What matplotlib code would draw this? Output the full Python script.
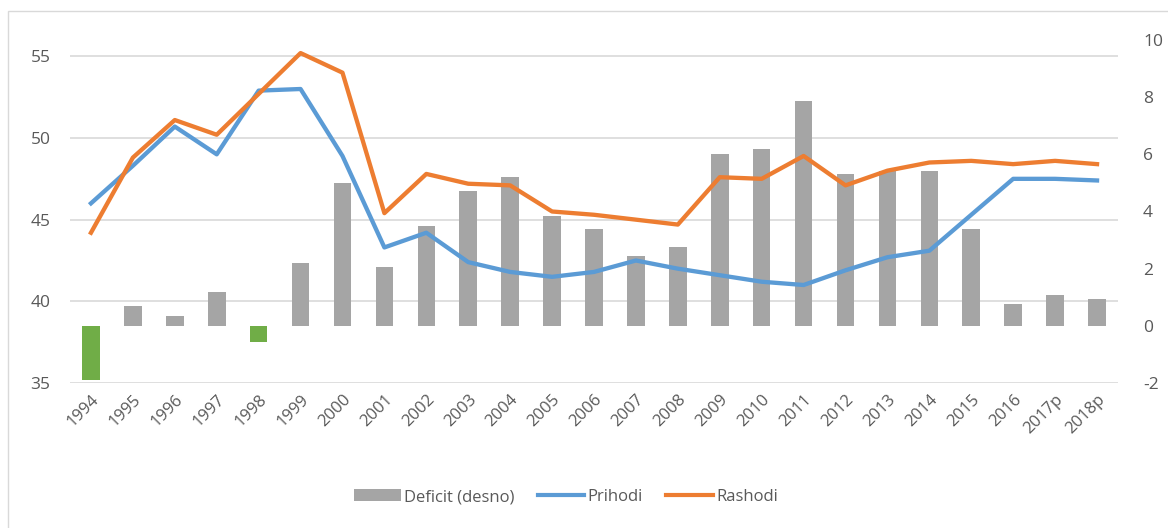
import matplotlib
matplotlib.use('Agg')
import numpy as np
import matplotlib.pyplot as plt
from matplotlib.patches import Patch, Rectangle
from matplotlib.lines import Line2D

plt.rcParams['font.family'] = ['Open Sans', 'DejaVu Sans']
plt.rcParams['axes.unicode_minus'] = False

years = ['1994', '1995', '1996', '1997', '1998', '1999', '2000', '2001', '2002',
         '2003', '2004', '2005', '2006', '2007', '2008', '2009', '2010', '2011',
         '2012', '2013', '2014', '2015', '2016', '2017p', '2018p']
prihodi = [46.0, 48.3, 50.7, 49.0, 52.9, 53.0, 48.9, 43.3, 44.2, 42.4, 41.8, 41.5,
           41.8, 42.5, 42.0, 41.6, 41.2, 41.0, 41.9, 42.7, 43.1, 45.3, 47.5, 47.5, 47.4]
rashodi = [44.2, 48.8, 51.1, 50.2, 52.7, 55.2, 54.0, 45.4, 47.8, 47.2, 47.1, 45.5,
           45.3, 45.0, 44.7, 47.6, 47.5, 48.9, 47.1, 48.0, 48.5, 48.6, 48.4, 48.6, 48.4]
deficit = [-1.9, 0.7, 0.35, 1.2, -0.55, 2.2, 5.0, 2.07, 3.5, 4.7, 5.2, 3.85,
           3.4, 2.45, 2.75, 6.0, 6.2, 7.85, 5.3, 5.4, 5.4, 3.4, 0.77, 1.08, 0.94]

GRAY = '#A5A5A5'
GREEN = '#70AD47'
BLUE = '#5B9BD5'
ORANGE = '#ED7D31'
TEXT = '#595959'

x = np.arange(len(years))

fig = plt.figure(figsize=(11.68, 5.28), dpi=100)
# chart frame
fig.patches.append(Rectangle((8 / 1168, -0.01), 1.0, 1 - 11 / 528 + 0.01,
                             transform=fig.transFigure, fill=False,
                             edgecolor='#D9D9D9', linewidth=1))

ax_l = fig.add_axes([70 / 1168, 1 - 383 / 528, 1048 / 1168, 343 / 528])
ax_r = ax_l.twinx()
ax_lines = ax_r.twinx()
# twinx moves the parent's ticks to the left, put them back
ax_r.yaxis.tick_right()
ax_r.yaxis.set_label_position('right')

# left axis: gridlines + labels
ax_l.set_ylim(35, 56)
ax_l.set_yticks([35, 40, 45, 50, 55])
ax_l.grid(axis='y', color='#D9D9D9', linewidth=1.2)
ax_l.set_axisbelow(True)

# right axis: bars
colors = [GREEN if d < 0 else GRAY for d in deficit]
ax_r.bar(x, deficit, width=0.42, color=colors)
ax_r.set_ylim(-2, 10)
ax_r.set_yticks([-2, 0, 2, 4, 6, 8, 10])

# lines on left scale
ax_lines.plot(x, prihodi, color=BLUE, linewidth=3.1, solid_joinstyle='round')
ax_lines.plot(x, rashodi, color=ORANGE, linewidth=3.1, solid_joinstyle='round')
ax_lines.set_ylim(ax_l.get_ylim())
ax_lines.set_yticks([])

for a in (ax_l, ax_r, ax_lines):
    for s in a.spines.values():
        s.set_visible(False)
    a.set_xlim(-0.5, len(years) - 0.5)

ax_l.set_xticks(x)
ax_l.set_xticklabels(years, rotation=45, ha='right', rotation_mode='anchor',
                     fontsize=12, color=TEXT)
ax_l.tick_params(axis='x', length=0, pad=6)
ax_l.tick_params(axis='y', length=0, pad=14, labelsize=12.5, labelcolor=TEXT)
ax_r.tick_params(axis='y', length=0, pad=18, labelsize=12.5, labelcolor=TEXT)

handles = [Patch(facecolor=GRAY),
           Line2D([0], [0], color=BLUE, linewidth=3),
           Line2D([0], [0], color=ORANGE, linewidth=3)]
labels = ['Deficit (desno)', 'Prihodi', 'Rashodi']
leg = fig.legend(handles, labels, loc='center', bbox_to_anchor=(566 / 1168, 1 - 497 / 528),
                 ncol=3, frameon=False, fontsize=12, handlelength=2.8,
                 handletextpad=0.2, columnspacing=1.4)
for t in leg.get_texts():
    t.set_color(TEXT)

fig.savefig('out.png', dpi=100)
